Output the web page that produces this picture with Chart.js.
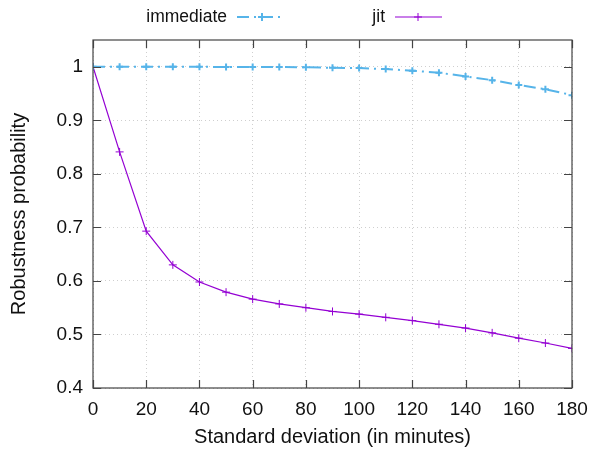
<!DOCTYPE html>
<html>
<head>
<meta charset="utf-8">
<script src="https://cdn.jsdelivr.net/npm/chart.js@4"></script>
<style>
  html, body { margin: 0; padding: 0; background: #fff; }
  #wrap { width: 590px; height: 453px; }
</style>
</head>
<body>
<div id="wrap"><canvas id="chart" width="590" height="453"></canvas></div>
<script>
// standard deviation (minutes)
var stdDev = [0, 10, 20, 30, 40, 50, 60, 70, 80, 90, 100, 110, 120, 130, 140, 150, 160, 170, 180];
var immediate = [1.0, 1.0, 1.0, 1.0, 1.0, 0.9995, 0.9995, 0.9995, 0.999, 0.998, 0.9975, 0.9957, 0.9925, 0.989, 0.982, 0.975, 0.966, 0.958, 0.947];
var jit = [1.0, 0.841, 0.693, 0.630, 0.598, 0.579, 0.566, 0.557, 0.550, 0.543, 0.538, 0.532, 0.526, 0.519, 0.512, 0.503, 0.493, 0.484, 0.474];
var seriesNames = ['immediate', 'jit'];
var seriesColors = ['#56b4e9', '#9400d3'];
var xTicks = [0, 20, 40, 60, 80, 100, 120, 140, 160, 180];
var yTicks = [0.4, 0.5, 0.6, 0.7, 0.8, 0.9, 1];

var FONT = '"Liberation Sans", Arial, sans-serif';
var immDash = [12, 5, 2, 5];

// gnuplot-ish frame: box all round with inward ticks, plus legend (text then sample)
var framePlugin = {
	id: 'frame',
	afterDatasetsDraw: function (chart) {
		var ctx = chart.ctx, a = chart.chartArea;
		var xs = chart.scales.x, ys = chart.scales.y;
		ctx.save();
		ctx.strokeStyle = '#444';
		ctx.lineWidth = 1.2;
		ctx.strokeRect(a.left, a.top, a.right - a.left, a.bottom - a.top);
		ctx.beginPath();
		for (var i = 0; i < xTicks.length; i++) {
			var px = Math.round(xs.getPixelForValue(xTicks[i])) + 0.5;
			ctx.moveTo(px, a.bottom); ctx.lineTo(px, a.bottom - 8);
			ctx.moveTo(px, a.top); ctx.lineTo(px, a.top + 8);
		}
		for (var j = 0; j < yTicks.length; j++) {
			var py = Math.round(ys.getPixelForValue(yTicks[j])) + 0.5;
			ctx.moveTo(a.left, py); ctx.lineTo(a.left + 8, py);
			ctx.moveTo(a.right, py); ctx.lineTo(a.right - 8, py);
		}
		ctx.stroke();
		ctx.restore();
	},
	afterDraw: function (chart) {
		var ctx = chart.ctx;
		var y = 17;
		var items = [
			{ textRight: 227, x0: 237, x1: 285, color: seriesColors[0], dash: immDash, w: 2, marker: 262, mw: 2 },
			{ textRight: 385, x0: 395, x1: 442, color: seriesColors[1], dash: [], w: 1.2, marker: 418, mw: 1 }
		];
		ctx.save();
		ctx.font = '17.5px ' + FONT;
		ctx.fillStyle = '#111';
		ctx.textAlign = 'right';
		ctx.textBaseline = 'middle';
		for (var i = 0; i < items.length; i++) {
			var it = items[i];
			ctx.fillText(seriesNames[i], it.textRight, y);
			ctx.strokeStyle = it.color;
			ctx.lineWidth = it.w;
			ctx.setLineDash(it.dash);
			ctx.beginPath();
			ctx.moveTo(it.x0, y); ctx.lineTo(it.x1, y);
			ctx.stroke();
			ctx.setLineDash([]);
			ctx.lineWidth = it.mw;
			ctx.beginPath();
			ctx.moveTo(it.marker - 4, y); ctx.lineTo(it.marker + 4, y);
			ctx.moveTo(it.marker, y - 4); ctx.lineTo(it.marker, y + 4);
			ctx.stroke();
		}
		ctx.restore();
	}
};

var chart = new Chart(document.getElementById('chart'), {
	type: 'line',
	data: {
		datasets: [{
			label: seriesNames[0],
			data: stdDev.map(function (x, i) { return { x: x, y: immediate[i] }; }),
			borderColor: seriesColors[0],
			backgroundColor: seriesColors[0],
			borderWidth: 2,
			borderDash: immDash,
			pointStyle: 'cross',
			pointRadius: 3.5,
			pointBorderWidth: 2,
			tension: 0
		}, {
			label: seriesNames[1],
			data: stdDev.map(function (x, i) { return { x: x, y: jit[i] }; }),
			borderColor: seriesColors[1],
			backgroundColor: seriesColors[1],
			borderWidth: 1.2,
			pointStyle: 'cross',
			pointRadius: 4,
			pointBorderWidth: 1,
			tension: 0
		}]
	},
	options: {
		responsive: false,
		animation: false,
		layout: { padding: { top: 40, right: 18, left: 0, bottom: 0 } },
		plugins: { legend: { display: false }, tooltip: { enabled: false } },
		scales: {
			x: {
				type: 'linear',
				min: 0, max: 180,
				afterBuildTicks: function (s) { s.ticks = xTicks.map(function (v) { return { value: v }; }); },
				afterFit: function (s) { s.height = 65; s.paddingRight = 0; s.paddingLeft = 0; },
				grid: { color: '#cfcfcf', drawTicks: false, lineWidth: 1 },
				border: { display: false, dash: [1, 3] },
				ticks: { color: '#111', font: { family: FONT, size: 19 }, padding: 10, maxRotation: 0 },
				title: { display: true, text: 'Standard deviation (in minutes)', color: '#111', font: { family: FONT, size: 20 }, padding: { top: 4 } }
			},
			y: {
				min: 0.4, max: 1.05,
				afterBuildTicks: function (s) { s.ticks = yTicks.map(function (v) { return { value: v }; }); },
				afterFit: function (s) { s.width = 93; },
				grid: { color: '#cfcfcf', drawTicks: false, lineWidth: 1 },
				border: { display: false, dash: [1, 3] },
				ticks: { color: '#111', font: { family: FONT, size: 19 }, padding: 10, callback: function (v) { return String(v); } },
				title: { display: true, text: 'Robustness probability', color: '#111', font: { family: FONT, size: 20 }, padding: { top: 7, bottom: 0 } }
			}
		}
	},
	plugins: [framePlugin]
});
</script>
</body>
</html>
